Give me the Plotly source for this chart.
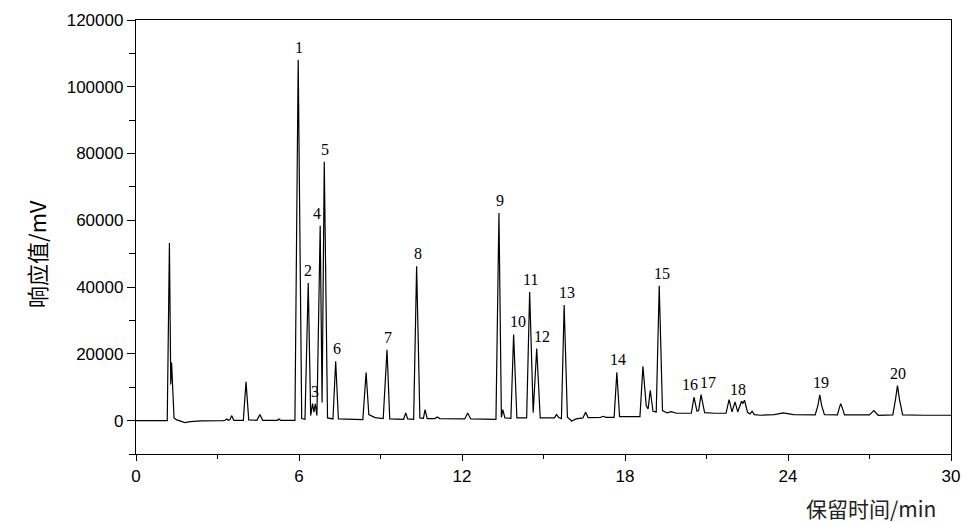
import plotly.graph_objects as go

# Chromatogram trace (retention time in min, response in mV)
time_min = [
    0.00, 1.15, 1.23, 1.28, 1.31, 1.40, 1.48, 1.65, 1.80, 2.00, 2.40, 3.20,
    3.28, 3.34, 3.40, 3.46, 3.52, 3.60, 3.95, 4.05, 4.15, 4.45, 4.56, 4.66,
    5.20, 5.26, 5.32, 5.85, 5.97, 6.10, 6.22, 6.34, 6.43, 6.50, 6.55, 6.60,
    6.66, 6.78, 6.85, 6.93, 7.05, 7.25, 7.35, 7.45, 8.35, 8.47, 8.57, 8.80,
    9.10, 9.24, 9.34, 9.85, 9.93, 10.00, 10.22, 10.33, 10.45, 10.58, 10.64,
    10.72, 11.00, 11.09, 11.18, 12.10, 12.21, 12.32, 13.25, 13.36, 13.45,
    13.50, 13.58, 13.80, 13.90, 14.02, 14.38, 14.49, 14.62, 14.75, 14.88,
    15.40, 15.48, 15.56, 15.66, 15.76, 15.88, 16.04, 16.20, 16.45, 16.55,
    16.64, 17.10, 17.20, 17.30, 17.60, 17.70, 17.80, 18.55, 18.66, 18.78,
    18.85, 18.93, 19.03, 19.15, 19.26, 19.38, 19.55, 19.70, 19.90, 20.30,
    20.44, 20.54, 20.65, 20.71, 20.80, 20.93, 21.30, 21.72, 21.83, 21.94,
    22.05, 22.15, 22.29, 22.34, 22.40, 22.51, 22.60, 22.68, 22.76, 23.00,
    23.50, 23.82, 24.20, 25.00, 25.10, 25.17, 25.24, 25.34, 25.82, 25.89,
    25.94, 26.00, 26.08, 27.00, 27.16, 27.32, 27.86, 27.96, 28.03, 28.10,
    28.22, 29.00, 29.50, 30.00,
]
response_mv = [
    0, 0, 53200, 10800, 17400, 800, 300, -300, -600, -300, -100, 0,
    100, 500, 100, 300, 1500, 100, 100, 11600, 200, 100, 1800, 100,
    100, 500, 100, 100, 108100, 600, 400, 41200, 1500, 5100, 2500, 5000,
    1500, 58400, 5400, 77500, 800, 500, 17800, 500, 300, 14400, 1800, 900,
    600, 21200, 500, 400, 2300, 500, 400, 46200, 800, 700, 3300,
    600, 600, 1100, 600, 500, 2300, 500, 400, 62200, 1000,
    3300, 800, 700, 25800, 800, 800, 38500, 2400, 21600, 800,
    800, 1800, 900, 600, 34600, 1000, -100, 500, 800, 2500,
    900, 1000, 1300, 1000, 1000, 14500, 1200, 1200, 16300, 4500,
    3500, 9100, 2800, 2600, 40400, 3000, 2300, 2700, 2200, 2200,
    2200, 7000, 2800, 3000, 7800, 2400, 2200, 2200, 6300, 2600,
    5600, 2600, 5800, 5200, 6100, 2500, 2000, 2800, 1800, 1600,
    1800, 2300, 1800, 1700, 4500, 7700, 4500, 1800, 1700, 3800,
    5100, 3800, 1700, 1700, 3000, 1600, 1700, 6500, 10500, 6500,
    1700, 1600, 1700, 1600,
]

# Numbered peak labels
peak_labels = ["1", "2", "3", "4", "5", "6", "7", "8", "9", "10",
               "11", "12", "13", "14", "15", "16", "17", "18", "19", "20"]
peak_times = [5.97, 6.34, 6.55, 6.78, 6.93, 7.35, 9.24, 10.33, 13.36, 13.90,
              14.49, 14.75, 15.76, 17.70, 19.26, 20.54, 20.80, 22.05, 25.17, 28.03]
peak_heights = [108100, 41200, 5100, 58400, 77500, 17800, 21200, 46200, 62200, 25800,
                38500, 21600, 34600, 14500, 40400, 7000, 7800, 5600, 7700, 10500]

x_ticks = [0, 6, 12, 18, 24, 30]
y_ticks = [0, 20000, 40000, 60000, 80000, 100000, 120000]

# label nudges in pixels (style only)
label_xshift = {"2": 0, "3": 1, "4": -3, "10": 4, "11": 1, "12": 5, "13": 3, "15": 3,
                "16": -4, "17": 7, "18": 3}

fig = go.Figure()
fig.add_trace(go.Scatter(
    x=time_min, y=response_mv, mode="lines",
    line=dict(color="black", width=1.2), showlegend=False, hoverinfo="skip",
))

for lab, t, h in zip(peak_labels, peak_times, peak_heights):
    fig.add_annotation(
        x=t, y=h, text=lab, showarrow=False, xanchor="center", yanchor="bottom",
        xshift=label_xshift.get(lab, 1), yshift=2,
        font=dict(family="Liberation Serif, Times New Roman, serif", size=16, color="black"),
    )

axis_line = dict(showline=True, linecolor="black", linewidth=1.3, mirror=True,
                 showgrid=False, zeroline=False)

fig.update_xaxes(
    range=[0, 30], tickvals=x_ticks, ticktext=[str(v) for v in x_ticks],
    ticks="outside", ticklen=6, tickwidth=1, tickcolor="black",
    minor=dict(dtick=3, tick0=0, ticks="outside", ticklen=4, tickcolor="black"),
    tickfont=dict(family="Liberation Sans, Arial", size=17, color="black"),
    **axis_line,
)
fig.update_yaxes(
    range=[-10000, 120000], tickvals=y_ticks, ticktext=[str(v) for v in y_ticks],
    ticks="outside", ticklen=8, tickwidth=1, tickcolor="black",
    minor=dict(dtick=10000, tick0=0, ticks="outside", ticklen=6, tickcolor="black"),
    tickfont=dict(family="Liberation Sans, Arial", size=17, color="black"),
    **axis_line,
)

fig.add_annotation(
    xref="paper", yref="paper", x=-0.122, y=0.46, text="响应值/mV", textangle=-90,
    showarrow=False, xanchor="center", yanchor="middle",
    font=dict(family="Noto Sans CJK SC, Liberation Sans", size=22, color="black"),
)
fig.add_annotation(
    xref="paper", yref="paper", x=0.984, y=-0.085, text="保留时间/min",
    showarrow=False, xanchor="right", yanchor="top",
    font=dict(family="Noto Sans CJK SC, Liberation Sans", size=21, color="#222222"),
)

fig.update_layout(
    width=975, height=522,
    margin=dict(l=136, r=24, t=20, b=68),
    paper_bgcolor="white", plot_bgcolor="white",
)

fig.write_html("out.html", config={"displayModeBar": False},
               post_script="document.body.style.margin='0';document.body.style.padding='0';")
